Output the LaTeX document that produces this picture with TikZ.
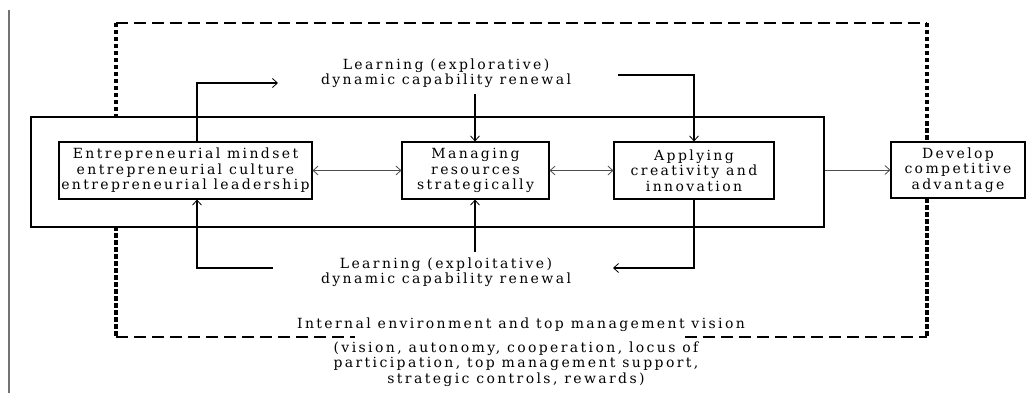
\documentclass[tikz,border=0pt]{standalone}
\usepackage{fontspec}
\usetikzlibrary{arrows.meta}
\newfontfamily\dfont[LetterSpace=17]{DejaVu Serif}
\begin{document}
\begin{tikzpicture}[x=1pt,y=-1pt,
  txt/.style={font={\dfont\fontsize{14}{15.5}\selectfont},align=center,inner sep=0pt},
  box/.style={txt,draw=black,line width=1.1pt,fill=white},
  conn/.style={line width=1.1pt,-{Straight Barb[length=5pt,width=9pt,line width=0.8pt]}},
  biconn/.style={line width=0.8pt,draw=black!70,{Straight Barb[length=5pt,width=9pt,line width=0.8pt]}-{Straight Barb[length=5pt,width=9pt,line width=0.8pt]}},
  hdash/.style={line width=2pt,dash pattern=on 12pt off 6pt},
  vdash/.style={line width=3.2pt,dash pattern=on 4.5pt off 2.5pt}]
\useasboundingbox (0,0) rectangle (1027,393);
\fill[white] (0,0) rectangle (1027,393);
% left gray bar
\draw[line width=2.5pt,black!55] (9,10) -- (9,393);
% outer dashed environment
\coordinate (otl) at (116,23);
\coordinate (otr) at (927,23);
\coordinate (obl) at (116,337);
\coordinate (obr) at (927,337);
\coordinate (obm1) at (355,337);
\coordinate (obm2) at (685,337);
\draw[hdash] (otl) -- (otr);
\draw[hdash] (obl) -- (obm1);
\draw[hdash] (obm2) -- (obr);
\draw[vdash] (otl) -- (obl);
\draw[vdash] (otr) -- (obr);
% inner frame
\node[draw=black,line width=1.1pt,fill=white,minimum width=793pt,minimum height=110pt,inner sep=0pt] (frame) at (427.5,172) {};
% boxes
\node[box,minimum width=253pt,minimum height=57pt] (b1) at (185.5,170.5) {Entrepreneurial mindset\\entrepreneurial culture\\entrepreneurial leadership};
\node[box,minimum width=147pt,minimum height=57pt] (b2) at (475.5,170.5) {Managing\\resources\\strategically};
\node[box,minimum width=160pt,minimum height=57pt] (b3) at (694,170.5) {Applying\\creativity and\\innovation};
\node[box,minimum width=134pt,minimum height=56pt] (b4) at (958,170) {Develop\\competitive\\advantage};
% learning labels
\node[txt] (lexp) at (446,73) {Learning (explorative)\\dynamic capability renewal};
\node[txt] (lexl) at (446,272) {Learning (exploitative)\\dynamic capability renewal};
\node[txt] (env) at (521,325) {Internal environment and top management vision};
\node[txt] (envd) at (516,364) {(vision, autonomy, cooperation, locus of\\participation, top management support,\\strategic controls, rewards)};
% connector coordinates
\coordinate (t1) at (197,83);
\coordinate (t1e) at (278,83);
\coordinate (t2s) at (475,94);
\coordinate (t3s) at (618,75);
\coordinate (t3c) at (694,75);
\coordinate (u1s) at (273,268);
\coordinate (u2s) at (475,252);
\coordinate (u3c) at (694,268);
\coordinate (u3e) at (613,268);
% top connectors
\draw[conn] (b1.north -| t1) -- (t1) -- (t1e);
\draw[conn] (t2s) -- (t2s |- b2.north);
\draw[conn] (t3s) -- (t3c) -- (b3.north);
% bottom connectors
\draw[conn] (u1s) -- (u1s -| t1) -- (t1 |- b1.south);
\draw[conn] (u2s) -- (u2s |- b2.south);
\draw[conn] (b3.south) -- (u3c) -- (u3e);
% horizontal arrows
\draw[biconn] (b1.east) -- (b2.west);
\draw[biconn] (b2.east) -- (b3.west);
\draw[line width=0.8pt,draw=black!70,-{Straight Barb[length=5pt,width=9pt,line width=0.8pt]}] (frame.east |- b4.west) -- (b4.west);
\end{tikzpicture}
\end{document}
